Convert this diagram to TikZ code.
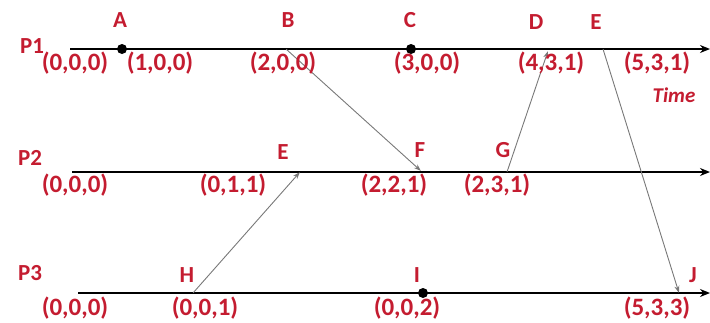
\documentclass[tikz,border=0pt]{standalone}
\usepackage{fontspec}
\setmainfont{Carlito}
\usetikzlibrary{arrows.meta}
\definecolor{cLabel}{RGB}{196,28,48}
\definecolor{cMsg}{RGB}{120,120,120}
\tikzset{
	procline/.style={line width=2pt, -{Stealth[length=10pt, width=8pt]}},
	msg/.style     ={cMsg, line width=0.9pt, -{Stealth[length=7pt, width=5pt]}},
	evt/.style     ={circle, fill=black, inner sep=0pt, minimum size=10pt},
	pt/.style      ={inner sep=0pt, minimum size=0pt},
	lbl/.style     ={text=cLabel, font=\fontsize{23}{25}\selectfont\bfseries, inner sep=0pt},
	vc/.style      ={text=cLabel, font=\fontsize{25}{27}\selectfont\bfseries, inner sep=0pt},
}
\begin{document}
\begin{tikzpicture}[x=1pt, y=1pt]
	\useasboundingbox (0,0) rectangle (710,-322);
	% process time lines
	\coordinate (p1s) at (70,-49);  \coordinate (p1e) at (710,-49);
	\coordinate (p2s) at (72,-172); \coordinate (p2e) at (710,-172);
	\coordinate (p3s) at (78,-293); \coordinate (p3e) at (710,-293);
	\draw[procline] (p1s) -- (p1e);
	\draw[procline] (p2s) -- (p2e);
	\draw[procline] (p3s) -- (p3e);
	\node[lbl] (n1) at (32,-46) {P1};
	\node[lbl] (n2) at (30,-158) {P2};
	\node[lbl] (n3) at (30,-273) {P3};
	% events on P1
	\node[evt] (a) at (122,-49) {};
	\node[pt]  (b) at (286,-49) {};
	\node[evt] (c) at (411,-49) {};
	\node[pt]  (d) at (548,-51) {};
	\node[pt]  (e) at (603,-49) {};
	% events on P2
	\node[pt] (e2) at (300,-172) {};
	\node[pt] (f)  at (421,-171) {};
	\node[pt] (g)  at (507,-172) {};
	% events on P3
	\node[pt]  (h) at (193,-293) {};
	\node[evt] (i) at (423,-293) {};
	\node[pt]  (j) at (679,-293) {};
	% messages
	\draw[msg] (b) -- (f);
	\draw[msg] (h) -- (e2);
	\draw[msg] (g) -- (d);
	\draw[msg] (e) -- (j);
	% event names
	\node[lbl] (la) at (120,-20) {A};
	\node[lbl] (lb) at (288,-20) {B};
	\node[lbl] (lc) at (410,-20) {C};
	\node[lbl] (ld) at (536,-22) {D};
	\node[lbl] (le) at (596,-22) {E};
	\node[lbl] (le2) at (283,-152) {E};
	\node[lbl] (lf) at (420,-150) {F};
	\node[lbl] (lg) at (503,-150) {G};
	\node[lbl] (lh) at (187,-275) {H};
	\node[lbl] (li) at (417,-275) {I};
	\node[lbl] (lj) at (693,-275) {J};
	% vector clocks
	\node[vc] (v1a) at (75,-63)  {(0,0,0)};
	\node[vc] (v1b) at (160,-63) {(1,0,0)};
	\node[vc] (v1c) at (283,-63) {(2,0,0)};
	\node[vc] (v1d) at (427,-63) {(3,0,0)};
	\node[vc] (v1e) at (551,-63) {(4,3,1)};
	\node[vc] (v1f) at (657,-63) {(5,3,1)};
	\node[lbl, font=\fontsize{21}{23}\selectfont\bfseries\itshape] (time) at (674,-95) {Time};
	\node[vc] (v2a) at (75,-185)  {(0,0,0)};
	\node[vc] (v2b) at (233,-185) {(0,1,1)};
	\node[vc] (v2c) at (394,-185) {(2,2,1)};
	\node[vc] (v2d) at (497,-185) {(2,3,1)};
	\node[vc] (v3a) at (75,-308)  {(0,0,0)};
	\node[vc] (v3b) at (205,-308) {(0,0,1)};
	\node[vc] (v3c) at (407,-308) {(0,0,2)};
	\node[vc] (v3d) at (657,-308) {(5,3,3)};
\end{tikzpicture}
\end{document}
